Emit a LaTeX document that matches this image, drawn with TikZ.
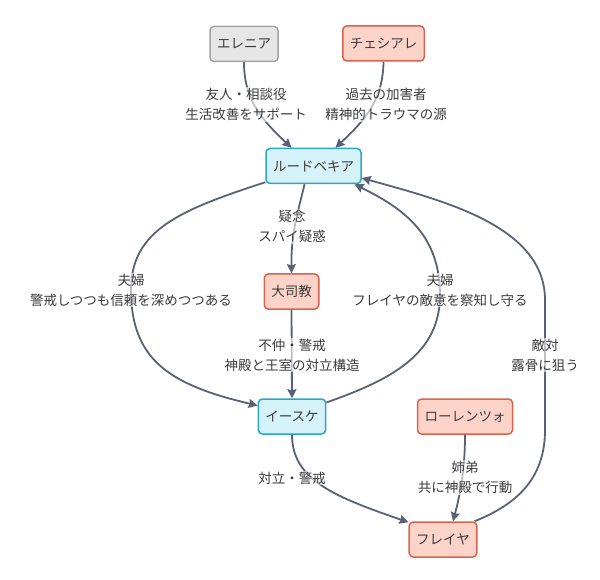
\documentclass[tikz,border=0pt]{standalone}
\usepackage{fontspec}
\setmainfont{Noto Sans CJK JP}
\usetikzlibrary{arrows.meta}
\definecolor{linegray}{HTML}{5A6076}
\definecolor{txtgray}{HTML}{3B3B3B}
\definecolor{bluefill}{HTML}{D6F2F9}
\definecolor{blueline}{HTML}{2AA6C6}
\definecolor{redfill}{HTML}{FCD3C9}
\definecolor{redline}{HTML}{D9644B}
\definecolor{grayfill}{HTML}{E6E6E6}
\definecolor{grayline}{HTML}{A3A3A3}
\tikzset{>={Stealth[length=9pt,width=9pt,inset=1pt]}}
\tikzset{
box/.style={draw, line width=1.5pt, rounded corners=4pt, minimum height=35pt, inner xsep=7pt, text=txtgray, font=\fontsize{13.5}{16}\selectfont},
bluebox/.style={box, draw=blueline, fill=bluefill},
redbox/.style={box, draw=redline, fill=redfill},
graybox/.style={box, draw=grayline, fill=grayfill},
link/.style={->, draw=linegray, line width=1.8pt},
lbl/.style={align=center, text=txtgray, font=\fontsize{13.5}{20}\selectfont, fill=white, fill opacity=0.6, text opacity=1, inner sep=1pt}
}

\begin{document}
\begin{tikzpicture}[x=1pt, y=-1pt]
\useasboundingbox (0,0) rectangle (600,580);
\node[graybox] (ele) at (244,44) {エレニア};
\node[redbox] (ches) at (383.5,43.5) {チェシアレ};
\node[bluebox] (rud) at (313.5,166) {ルードベキア};
\node[redbox] (dai) at (291.5,291.5) {大司教};
\node[bluebox] (isu) at (292,416.5) {イースケ};
\node[redbox] (lor) at (465,416.5) {ローレンツォ};
\node[redbox] (frey) at (443,539.5) {フレイヤ};
\draw[link] (ele.south) .. controls (244,100) and (262,120) .. ([xshift=-22pt]rud.north);
\draw[link] (ches.south) .. controls (383,100) and (365,120) .. ([xshift=22pt]rud.north);
\draw[link] ([xshift=-9pt]rud.south) .. controls (300,205) and (291,230) .. (dai.north);
\draw[link] ([yshift=2pt]rud.south west) .. controls (180,210) and (131,230) .. (131,290) .. controls (131,360) and (170,385) .. ([yshift=11pt]isu.west);
\draw[link] ([yshift=14pt]isu.east) .. controls (390,380) and (440,355) .. (440,295) .. controls (440,232) and (400,207) .. ([xshift=41pt]rud.south);
\draw[link] (dai.south) -- (isu.north);
\draw[link] (isu.south) .. controls (292,480) and (335,497) .. ([yshift=-1pt]frey.north west);
\draw[link] (lor.south) .. controls (465,470) and (460,495) .. ([xshift=10pt]frey.north);
\draw[link] ([xshift=-3pt]frey.north east) .. controls (515,505) and (545,480) .. (545,430) -- (545,300) .. controls (545,225) and (440,200) .. ([yshift=-12pt]rud.east);
\node[lbl] (l1) at (246,104.5) {友人・相談役\\生活改善をサポート};
\node[lbl] (l2) at (386,104.5) {過去の加害者\\精神的トラウマの源};
\node[lbl] (l3) at (292,226.5) {疑念\\スパイ疑惑};
\node[lbl] (l4) at (131,290) {夫婦\\警戒しつつも信頼を深めつつある};
\node[lbl] (l5) at (440,290) {夫婦\\フレイヤの敵意を察知し守る};
\node[lbl] (l6) at (292,355) {不仲・警戒\\神殿と王室の対立構造};
\node[lbl] (l7) at (545,355) {敵対\\露骨に狙う};
\node[lbl] (l8) at (292,478) {対立・警戒};
\node[lbl] (l9) at (465,477.5) {姉弟\\共に神殿で行動};
\end{tikzpicture}
\end{document}
